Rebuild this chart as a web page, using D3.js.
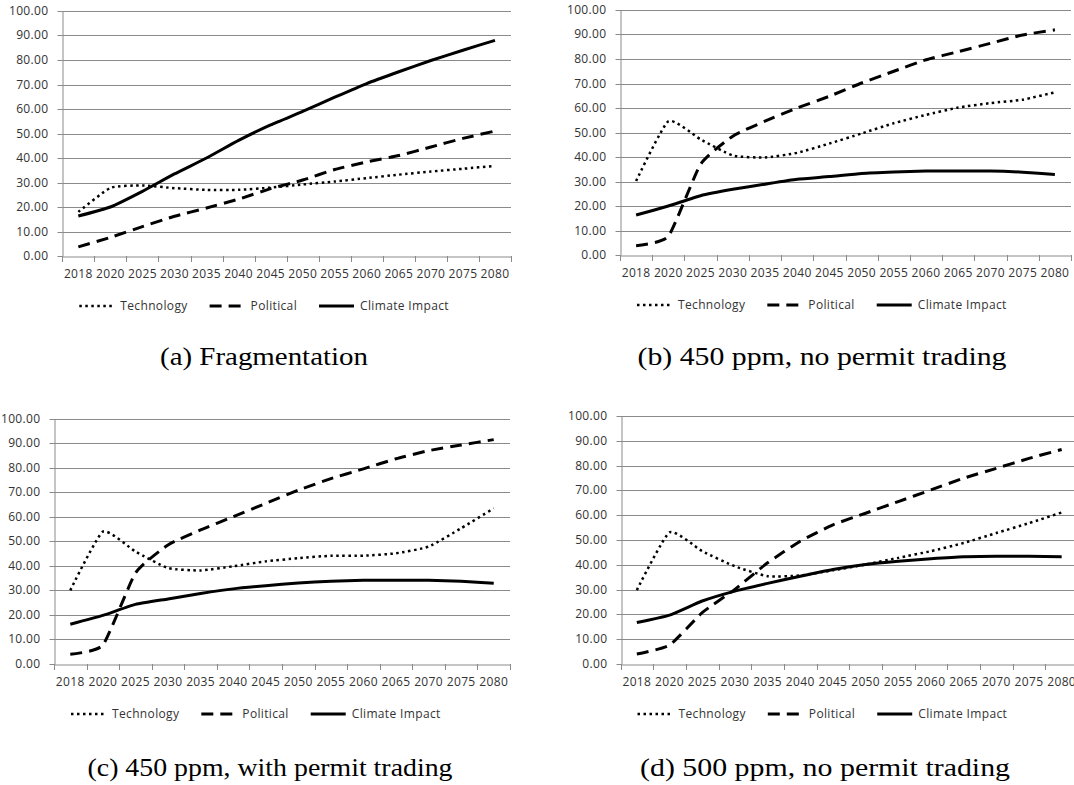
<!DOCTYPE html>
<html>
<head>
<meta charset="utf-8">
<script src="https://cdn.jsdelivr.net/npm/d3@7"></script>
<style>
    body { margin: 0; background: #fff; }
    svg { display: block; }
    .lbl { font-family: "Open Sans", sans-serif; font-size: 12px; fill: #333; letter-spacing: 0.35px; }
    .caption { font-family: "Liberation Serif", "Times New Roman", serif; font-size: 25px; fill: #000; }
</style>
</head>
<body>
<div id="chart"></div>
<script>
var years = ["2018", "2020", "2025", "2030", "2035", "2040", "2045", "2050",
             "2055", "2060", "2065", "2070", "2075", "2080"];
var yTicks = [0, 10, 20, 30, 40, 50, 60, 70, 80, 90, 100];
var seriesNames = ["Technology", "Political", "Climate Impact"];

// (a) Fragmentation
var fragTechnology = [18, 27.8, 28.8, 27.7, 27, 27, 27.9, 29.2, 30.4, 31.8, 33.2, 34.5, 35.6, 36.8];
var fragPolitical  = [3.7, 7.6, 12, 16.2, 19.6, 23.2, 27.5, 31, 35.3, 38.4, 41, 44.5, 48, 51];
var fragClimate    = [16.3, 20, 26.4, 33.5, 40, 47.2, 53.5, 59, 64.8, 70.4, 75.2, 79.8, 84, 88];

// (b) 450 ppm, no permit trading
var noTradeTechnology = [30.2, 54.6, 47.2, 40.6, 39.8, 41.7, 45.5, 49.6, 53.8, 57.2, 60.2, 62, 63.4, 66.4];
var noTradePolitical  = [3.8, 7.6, 37, 48.5, 54.6, 60, 64.8, 70.2, 75, 79.7, 83, 86.4, 89.8, 91.9];
var noTradeClimate    = [16.3, 20, 24.2, 26.8, 28.9, 30.9, 32, 33.3, 33.9, 34.3, 34.3, 34.3, 33.8, 32.9];

// (c) 450 ppm, with permit trading
var tradeTechnology = [30, 53.9, 45.8, 39.1, 38.1, 39.8, 41.8, 43.1, 44.1, 44.1, 45.1, 47.8, 55.3, 63.4];
var tradePolitical  = [4, 7.7, 37, 48.5, 54.6, 60, 65.4, 70.8, 75.5, 79.5, 83.6, 86.9, 89.2, 91.4];
var tradeClimate    = [16.2, 19.8, 24.3, 26.5, 28.7, 30.6, 31.9, 33, 33.7, 34.1, 34.1, 34.1, 33.7, 32.9];

// (d) 500 ppm, no permit trading
var ppm500Technology = [29.8, 53.1, 45.5, 39.4, 35.4, 35.7, 37.8, 40.1, 42.8, 45.5, 48.8, 52.8, 56.8, 61.1];
var ppm500Political  = [4, 7.6, 20.7, 30.1, 40.8, 49.5, 56.1, 60.8, 65.5, 70.2, 74.9, 78.9, 82.9, 86.5];
var ppm500Climate    = [16.7, 19.7, 25.4, 29.4, 32.5, 35.4, 38.1, 40.1, 41.4, 42.4, 43.2, 43.4, 43.4, 43.2];

var captions = ["(a) Fragmentation", "(b) 450 ppm, no permit trading",
                "(c) 450 ppm, with permit trading", "(d) 500 ppm, no permit trading"];

var width = 1074,
    height = 785,
    fmt = d3.format(".2f");

// plot frames, one per panel
var panels = [
    {left: 62.3, right: 511, top: 11, bottom: 256, capX: 264, capY: 365, captionWidth: 208,
     values: [fragTechnology, fragPolitical, fragClimate]},
    {left: 620, right: 1071, top: 10, bottom: 255, capX: 822, capY: 365, captionWidth: 369,
     values: [noTradeTechnology, noTradePolitical, noTradeClimate]},
    {left: 54, right: 510, top: 418.5, bottom: 664, capX: 270, capY: 776, captionWidth: 365,
     values: [tradeTechnology, tradePolitical, tradeClimate]},
    {left: 620.5, right: 1078, top: 416, bottom: 664, capX: 825, capY: 776, captionWidth: 370,
     values: [ppm500Technology, ppm500Political, ppm500Climate]},
];

var lineStyles = [
    {width: 2.5, dash: "2.5,3.5"},
    {width: 3, dash: "12,7"},
    {width: 3, dash: null},
];

var svg = d3.select("#chart")
    .append("svg")
    .attr("width", width)
    .attr("height", height);

svg.append("rect")
    .attr("width", width)
    .attr("height", height)
    .attr("fill", "#fff");

let drawPanel = (p, i) => {
    let g = svg.append("g");

    let x = d3.scaleBand()
        .domain(years)
        .range([p.left, p.right])
        .paddingInner(0)
        .paddingOuter(0);

    let y = d3.scaleLinear()
        .domain([0, 100])
        .range([p.bottom, p.top]);

    let cx = d => x(d) + x.bandwidth() / 2;

    // gridlines
    g.append("g")
        .selectAll("line")
        .data(yTicks.filter(t => t > 0))
        .join("line")
        .attr("x1", p.left)
        .attr("x2", p.right)
        .attr("y1", d => Math.round(y(d)) + 0.5)
        .attr("y2", d => Math.round(y(d)) + 0.5)
        .attr("stroke", "#8a8a8a")
        .attr("stroke-width", 1);

    // y axis
    let yAxis = g.append("g")
        .attr("transform", `translate(${Math.round(p.left) + 0.5}, 0)`)
        .call(d3.axisLeft(y).tickValues(yTicks).tickSize(5).tickPadding(9).tickSizeOuter(0).tickFormat(fmt));
    yAxis.selectAll(".tick line").attr("stroke", "#8a8a8a");
    yAxis.selectAll(".tick").attr("transform", d => `translate(0, ${Math.round(y(d)) + 0.5})`);
    yAxis.select(".domain").attr("stroke", "#8a8a8a");
    yAxis.selectAll("text").attr("class", "lbl").attr("fill", null).attr("font-size", null).attr("font-family", null);

    // x axis: labels centred in categories, ticks on category boundaries
    let xAxis = g.append("g")
        .attr("transform", `translate(0, ${Math.round(p.bottom) + 0.5})`)
        .call(d3.axisBottom(x).tickSize(0).tickPadding(13).tickSizeOuter(0));
    xAxis.select(".domain").attr("stroke", "#8a8a8a");
    xAxis.selectAll("text").attr("class", "lbl").attr("fill", null).attr("font-size", null).attr("font-family", null);

    g.append("g")
        .selectAll("line")
        .data(years.concat(["end"]))
        .join("line")
        .attr("x1", d => Math.round(d === "end" ? p.right : x(d)) + 0.5)
        .attr("x2", d => Math.round(d === "end" ? p.right : x(d)) + 0.5)
        .attr("y1", Math.round(p.bottom))
        .attr("y2", Math.round(p.bottom) + 6)
        .attr("stroke", "#8a8a8a");

    // series lines (smoothed, but tight at sharp turns)
    let line = d3.line()
        .x((d, j) => cx(years[j]))
        .y(d => y(d))
        .curve(d3.curveCardinal.tension(0.5));

    p.values.forEach((vals, k) => {
        g.append("path")
            .datum(vals)
            .attr("d", line)
            .attr("fill", "none")
            .attr("stroke", "#000")
            .attr("stroke-width", lineStyles[k].width)
            .attr("stroke-dasharray", lineStyles[k].dash)
            .attr("stroke-linejoin", "round");
    });

    // legend
    let legendY = p.bottom + 50,
        lx = p.left + 17;
    seriesNames.forEach((name, k) => {
        g.append("line")
            .attr("x1", lx)
            .attr("x2", lx + 35)
            .attr("y1", legendY)
            .attr("y2", legendY)
            .attr("stroke", "#000")
            .attr("stroke-width", lineStyles[k].width)
            .attr("stroke-dasharray", lineStyles[k].dash);
        let t = g.append("text")
            .attr("class", "lbl")
            .attr("x", lx + 41)
            .attr("y", legendY)
            .attr("dy", "0.35em")
            .text(name);
        lx += 41 + t.node().getComputedTextLength() + 22;
    });

    // caption
    svg.append("text")
        .attr("class", "caption")
        .attr("x", p.capX)
        .attr("y", p.capY)
        .attr("text-anchor", "middle")
        .attr("textLength", p.captionWidth)
        .attr("lengthAdjust", "spacingAndGlyphs")
        .text(captions[i]);
};

panels.forEach(drawPanel);
</script>
</body>
</html>
